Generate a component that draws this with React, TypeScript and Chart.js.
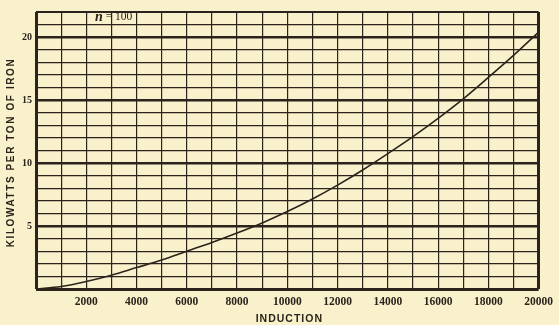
import React, { useEffect, useRef } from "react";
import { Chart, registerables } from "chart.js";

Chart.register(...registerables);

const inductionValues = [0, 1000, 2000, 3000, 4000, 5000, 6000, 7000, 8000, 9000, 10000, 11000, 12000, 13000, 14000, 15000, 16000, 17000, 18000, 19000, 20000];
const kilowattValues = [0, 0.2, 0.6, 1.1, 1.7, 2.3, 3.0, 3.7, 4.45, 5.25, 6.15, 7.15, 8.25, 9.45, 10.75, 12.1, 13.55, 15.1, 16.8, 18.55, 20.4];
const xTickLabels = [2000, 4000, 6000, 8000, 10000, 12000, 14000, 16000, 18000, 20000];
const yTickLabels = [5, 10, 15, 20];
const xTitle = "INDUCTION";
const yTitle = "KILOWATTS PER TON OF IRON";
const noteVar = "n";
const noteText = " = 100";

const BG = "#f8f1cb";
const INK = "#2e231c";

export default function App() {
  const ref = useRef<HTMLCanvasElement | null>(null);
  useEffect(() => {
    if (!ref.current) return;
    const decor = {
      id: "decor",
      beforeDraw(chart: any) {
        const ctx = chart.ctx;
        ctx.save();
        ctx.fillStyle = BG;
        ctx.fillRect(0, 0, chart.width, chart.height);
        ctx.restore();
      },
      afterDraw(chart: any) {
        const ctx = chart.ctx;
        const a = chart.chartArea;
        ctx.save();
        ctx.fillStyle = INK;
        // x title
        ctx.font = "bold 10.5px 'Liberation Sans', Arial, sans-serif";
        (ctx as any).letterSpacing = "1px";
        ctx.textAlign = "center";
        ctx.textBaseline = "middle";
        ctx.fillText(xTitle, (a.left + a.right) / 2 + 2, 319);
        // y title
        ctx.save();
        ctx.translate(11, (a.top + a.bottom) / 2 + 2);
        ctx.rotate(-Math.PI / 2);
        ctx.font = "bold 10px 'Liberation Sans', Arial, sans-serif";
        (ctx as any).letterSpacing = "1.6px";
        ctx.fillText(yTitle, 0, 0);
        ctx.restore();
        (ctx as any).letterSpacing = "0px";
        // note
        const xs = chart.scales.x;
        const nx = xs.getPixelForValue(2350);
        ctx.textAlign = "left";
        ctx.textBaseline = "middle";
        ctx.font = "italic bold 14px 'Liberation Serif', serif";
        ctx.fillText(noteVar, nx, 17);
        const w = ctx.measureText(noteVar).width;
        ctx.font = "11.5px 'Liberation Serif', serif";
        ctx.fillText(noteText, nx + w, 17);
        ctx.restore();
      },
    };
    const chart = new Chart(ref.current, {
      type: "line",
      data: {
        datasets: [
          {
            data: inductionValues.map((x, i) => ({ x, y: kilowattValues[i] })),
            borderColor: INK,
            borderWidth: 1.6,
            pointRadius: 0,
            fill: false,
            cubicInterpolationMode: "monotone",
          },
        ],
      },
      options: {
        animation: false,
        responsive: false,
        events: [],
        layout: { padding: { top: 12, right: 18, left: 0, bottom: 0 } },
        plugins: { legend: { display: false }, tooltip: { enabled: false }, title: { display: false } },
        scales: {
          x: {
            type: "linear",
            min: 0,
            max: 20000,
            border: { display: false },
            grid: {
              color: INK,
              drawTicks: false,
              lineWidth: (c: any) => {
                const v = c.tick ? c.tick.value : 0;
                if (v === 0 || v === 20000) return 3;
                return 1.2;
              },
            },
            ticks: {
              stepSize: 1000,
              autoSkip: false,
              maxRotation: 0,
              padding: 6,
              color: INK,
              font: { family: "'Liberation Serif', serif", size: 11.5, weight: "bold" },
              callback: (v: any) => (xTickLabels.includes(Number(v)) ? String(v) : ""),
            },
            afterFit: (s: any) => {
              s.height = 36;
            },
          },
          y: {
            type: "linear",
            min: 0,
            max: 22,
            border: { display: false },
            grid: {
              color: INK,
              drawTicks: false,
              lineWidth: (c: any) => {
                const v = c.tick ? c.tick.value : 0;
                if (v === 0) return 3;
                if (v === 22) return 2;
                if (v % 5 === 0) return 2.6;
                return 1.2;
              },
            },
            ticks: {
              stepSize: 1,
              autoSkip: false,
              padding: 4,
              color: INK,
              font: { family: "'Liberation Serif', serif", size: 10, weight: "bold" },
              callback: (v: any) => (yTickLabels.includes(Number(v)) ? String(v) : ""),
            },
            afterFit: (s: any) => {
              s.width = 36;
            },
          },
        },
      },
      plugins: [decor],
    } as any);
    return () => chart.destroy();
  }, []);
  return (
    <div style={{ position: "fixed", left: 0, top: 0, width: 559, height: 325, background: BG }}>
      <canvas ref={ref} width={559} height={325} />
    </div>
  );
}
